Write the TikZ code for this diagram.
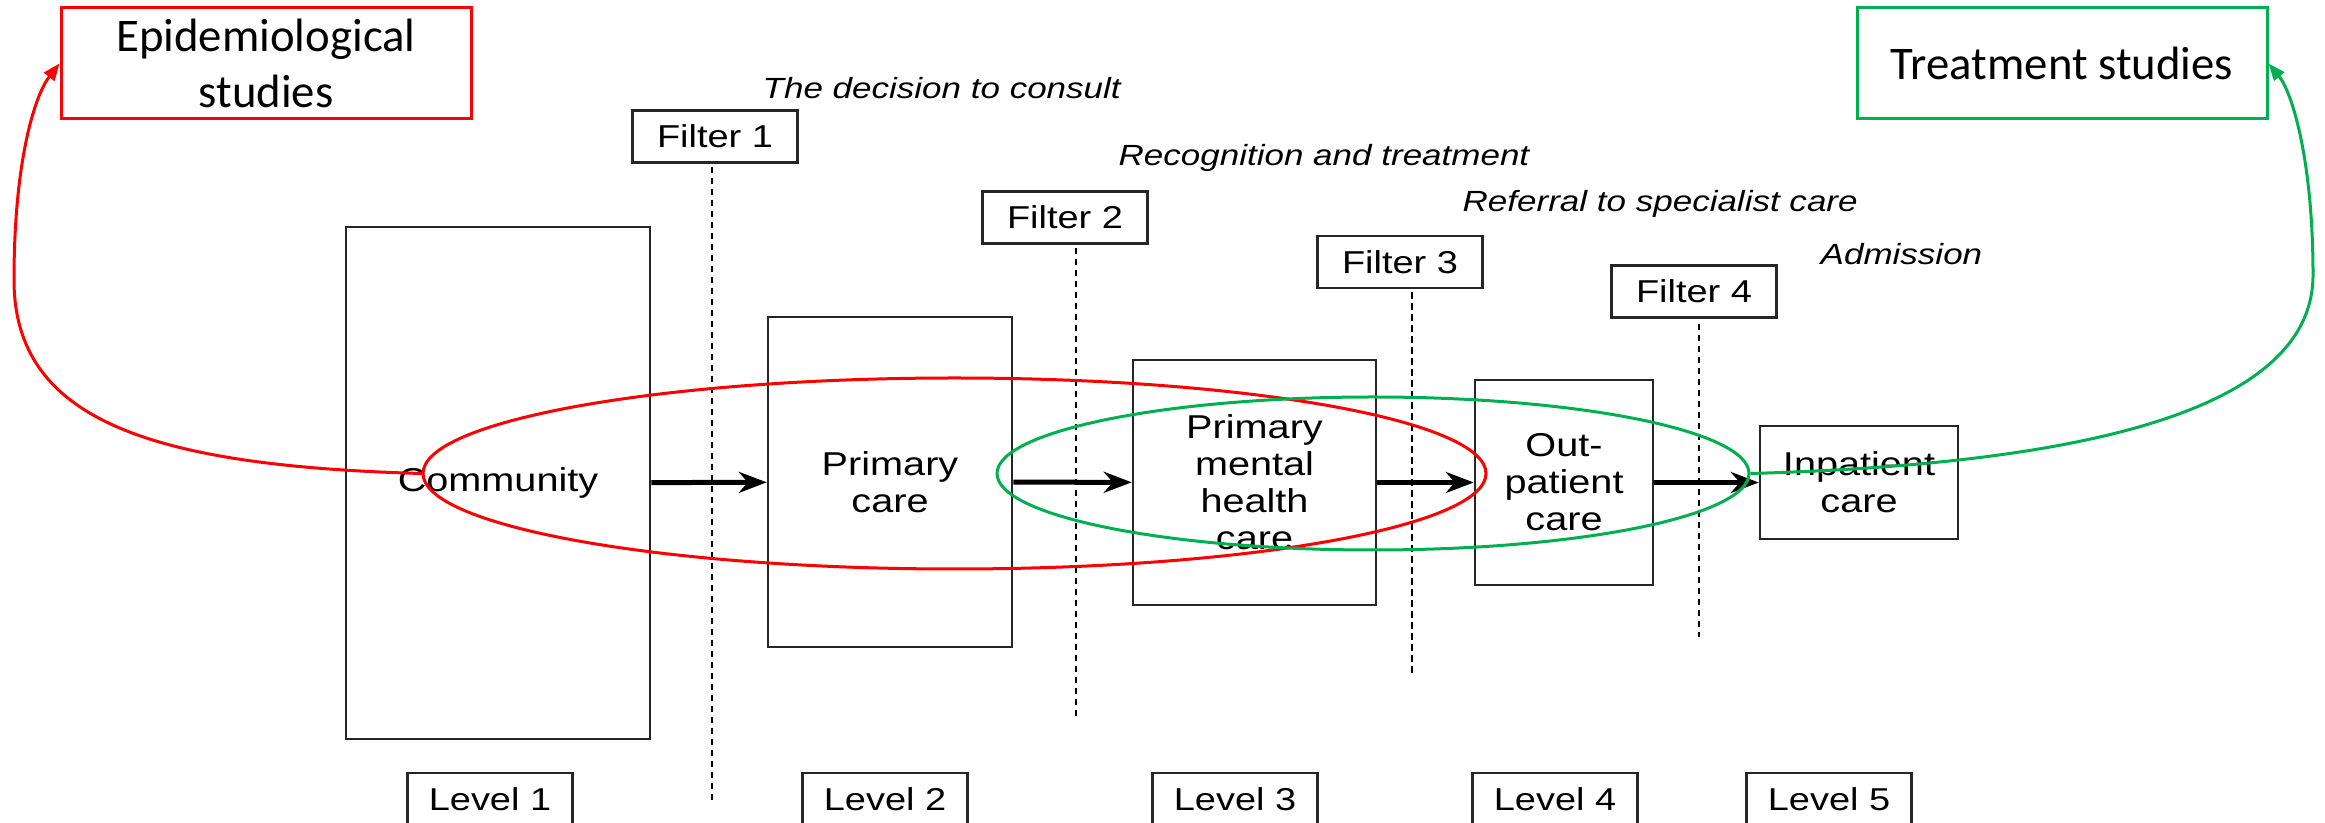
\documentclass[tikz,border=0pt]{standalone}
\usepackage{fontspec}
\setmainfont[FakeStretch=1.2]{Liberation Sans}
\newfontfamily\calfont{Carlito}
\usetikzlibrary{shapes.geometric,arrows.meta}
\definecolor{studyred}{RGB}{255,0,0}
\definecolor{studygreen}{RGB}{0,176,80}
\tikzset{
  flow/.style={draw,line width=0.5mm,-{Stealth[length=2.8mm,width=2.1mm]}},
  studyline/.style={draw,line width=0.3mm,-{Triangle[length=1.7mm,width=1.3mm]}}
}
\begin{document}
\begin{tikzpicture}[x=0.1mm,y=-0.1mm]
  \useasboundingbox (0,0) rectangle (2325,823);
  \clip (0,0) rectangle (2325,823);

      \begin{scope}[every node/.style={draw=black!85,line width=0.25mm,inner sep=0pt,align=center,font=\fontsize{9.4}{10.5}\selectfont}]
        \node[minimum width=30.4mm,minimum height=51.2mm] (b1) at (498,483)    {Community};
        \node[minimum width=24.4mm,minimum height=33mm]   (b2) at (890,482)    {Primary\\care};
        \node[minimum width=24.3mm,minimum height=24.5mm] (b3) at (1254.5,482.5) {Primary\\mental\\health\\care};
        \node[minimum width=17.8mm,minimum height=20.5mm] (b4) at (1564,482.5) {Out-\\patient\\care};
        \node[minimum width=19.8mm,minimum height=11.3mm] (b5) at (1859,482.5) {Inpatient\\care};
      \end{scope}

      \begin{scope}[every node/.style={draw=black!85,line width=0.25mm,inner sep=0pt,minimum width=16.5mm,minimum height=5.2mm,font=\fontsize{9}{10}\selectfont}]
        \node (f1) at (715,136.5)  {Filter 1};
        \node (f2) at (1065,217.5) {Filter 2};
        \node (f3) at (1400,262)   {Filter 3};
        \node (f4) at (1694,291.5) {Filter 4};
        \node (l1) at (490,799)  {Level 1};
        \node (l2) at (885,799)  {Level 2};
        \node (l3) at (1235,799) {Level 3};
        \node (l4) at (1555,799) {Level 4};
        \node (l5) at (1829,799) {Level 5};
      \end{scope}

      \begin{scope}[every node/.style={anchor=base west,inner sep=0pt,font=\fontsize{8.3}{9.6}\selectfont\itshape}]
        \node (t1) at (762,99)   {The decision to consult};
        \node (t2) at (1118,166) {Recognition and treatment};
        \node (t3) at (1462,212) {Referral to specialist care};
        \node (t4) at (1820,265) {Admission};
      \end{scope}

      \coordinate (d1) at (712,803);
      \coordinate (d2) at (1076,717);
      \coordinate (d3) at (1412,677);
      \coordinate (d4) at (1699,637);
      \begin{scope}[line width=0.22mm,dash pattern=on 0.65mm off 0.45mm]
        \draw ([yshift=-0.3mm]f1.south -| d1) -- (d1);
        \draw ([yshift=-0.3mm]f2.south -| d2) -- (d2);
        \draw ([yshift=-0.3mm]f3.south -| d3) -- (d3);
        \draw ([yshift=-0.5mm]f4.south -| d4) -- (d4);
      \end{scope}

      \path (b1) edge[flow] (b2);
      \path (b2) edge[flow] (b3);
      \path (b3) edge[flow] (b4);
      \path (b4) edge[flow] (b5);

      \begin{scope}[every node/.style={ellipse,line width=0.3mm,inner sep=0pt}]
        \node[draw=studyred,minimum width=106.3mm,minimum height=19.1mm]  (e1) at (954.5,473.5) {};
        \node[draw=studygreen,minimum width=75.2mm,minimum height=15.3mm] (e2) at (1373,473.5) {};
      \end{scope}

      \begin{scope}[every node/.style={line width=0.3mm,inner sep=0pt,minimum width=41mm,minimum height=11.1mm,align=center,font=\calfont\fontsize{13.3}{16}\selectfont}]
        \node[draw=studyred]   (epi)   at (266,63.5)  {Epidemiological\\studies};
        \node[draw=studygreen] (treat) at (2062,63.5) {Treatment studies};
      \end{scope}

      \path[studyline,studyred] (e1.west) .. controls (150,466) and (14,420) .. (14,280)
        .. controls (14,160) and (35,95) .. (epi.west);
      \path[studyline,studygreen] (e2.east) .. controls (2050,465) and (2313,420) .. (2313,275)
        .. controls (2313,160) and (2292,92) .. (treat.east);

\end{tikzpicture}
\end{document}
